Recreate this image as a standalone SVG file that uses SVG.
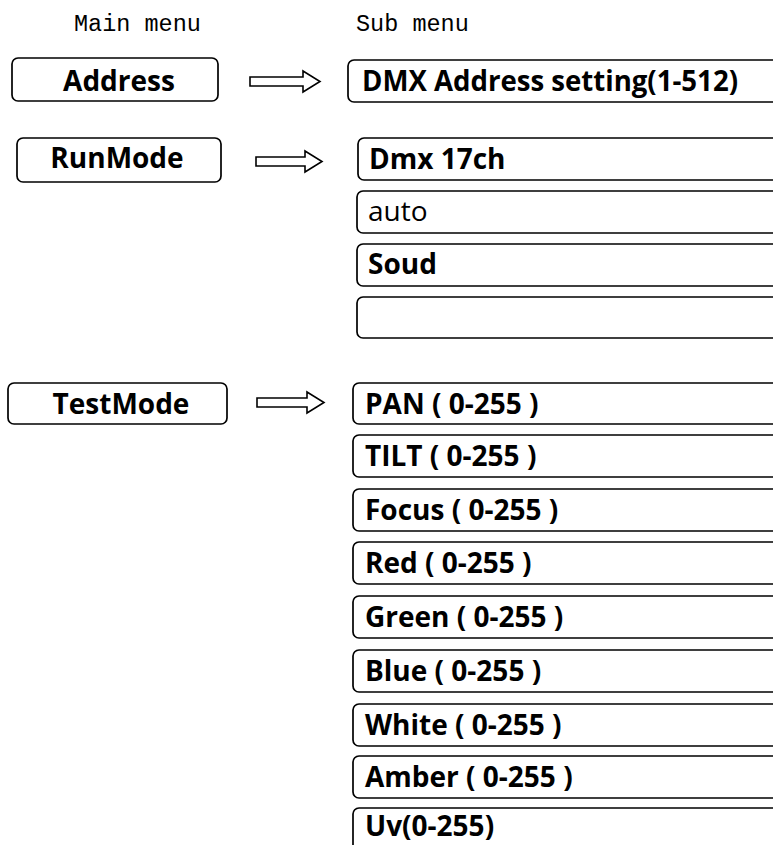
<svg xmlns="http://www.w3.org/2000/svg" width="773" height="845" viewBox="0 0 773 845">
<style>
.hdr{font-family:"Liberation Mono",monospace;font-size:23.5px;fill:#000}
.box{fill:#fff;stroke:#000;stroke-width:1.7}
.mt{font-family:"Open Sans","Noto Sans",sans-serif;font-weight:700;font-size:28px;fill:#000;text-anchor:middle}
.st{font-family:"Open Sans","Noto Sans",sans-serif;font-weight:700;font-size:28px;fill:#000}
.reg{font-weight:400}
.arr{fill:#fff;stroke:#000;stroke-width:1.6;stroke-linejoin:miter}
</style>
<rect width="773" height="845" fill="#fff"/>
<text class="hdr" x="74" y="31">Main menu</text>
<text class="hdr" x="356" y="31">Sub menu</text>

<g id="address"><rect class="box" x="12" y="58" width="206" height="43" rx="6"/><text class="mt" x="119" y="91">Address</text></g>
<g id="runmode"><rect class="box" x="17" y="138" width="204" height="44" rx="6"/><text class="mt" x="117" y="168">RunMode</text></g>
<g id="testmode"><rect class="box" x="8" y="383" width="219" height="41" rx="6"/><text class="mt" x="121" y="414">TestMode</text></g>

<g id="dmx"><rect class="box" x="348" y="60" width="460" height="42" rx="6"/><text class="st" x="362" y="91" textLength="376" lengthAdjust="spacingAndGlyphs">DMX Address setting(1-512)</text></g>

<g id="dmx17"><rect class="box" x="358" y="138" width="450" height="42" rx="6"/><text class="st" x="369" y="169">Dmx 17ch</text></g>
<g id="auto"><rect class="box" x="357" y="191" width="450" height="42" rx="6"/><text class="st reg" x="368" y="221">auto</text></g>
<g id="soud"><rect class="box" x="357" y="244" width="450" height="42" rx="6"/><text class="st" x="368" y="274">Soud</text></g>
<g id="empty"><rect class="box" x="357" y="297" width="450" height="41" rx="6"/></g>

<g id="pan"><rect class="box" x="353" y="383" width="460" height="41" rx="6"/><text class="st" x="365" y="414">PAN ( 0-255 )</text></g>
<g id="tilt"><rect class="box" x="353" y="435" width="460" height="42" rx="6"/><text class="st" x="365" y="466">TILT ( 0-255 )</text></g>
<g id="focus"><rect class="box" x="353" y="489" width="460" height="42" rx="6"/><text class="st" x="365" y="520">Focus ( 0-255 )</text></g>
<g id="red"><rect class="box" x="353" y="542" width="460" height="42" rx="6"/><text class="st" x="365" y="573">Red ( 0-255 )</text></g>
<g id="green"><rect class="box" x="353" y="596" width="460" height="42" rx="6"/><text class="st" x="365" y="627">Green ( 0-255 )</text></g>
<g id="blue"><rect class="box" x="353" y="650" width="460" height="42" rx="6"/><text class="st" x="365" y="681">Blue ( 0-255 )</text></g>
<g id="white"><rect class="box" x="353" y="704" width="460" height="42" rx="6"/><text class="st" x="365" y="735">White ( 0-255 )</text></g>
<g id="amber"><rect class="box" x="353" y="756" width="460" height="42" rx="6"/><text class="st" x="365" y="787">Amber ( 0-255 )</text></g>
<g id="uv"><rect class="box" x="353" y="808" width="460" height="60" rx="6"/><text class="st" x="365" y="836">Uv(0-255)</text></g>

<g id="connectors">
<polygon class="arr" points="250,77 303,77 303,71 320,81.5 303,92 303,86 250,86"/>
<polygon class="arr" points="256,157 305,157 305,151 322,161.5 305,172 305,166 256,166"/>
<polygon class="arr" points="257,398 307,398 307,392 324,402.5 307,413 307,407 257,407"/>
</g>
</svg>
